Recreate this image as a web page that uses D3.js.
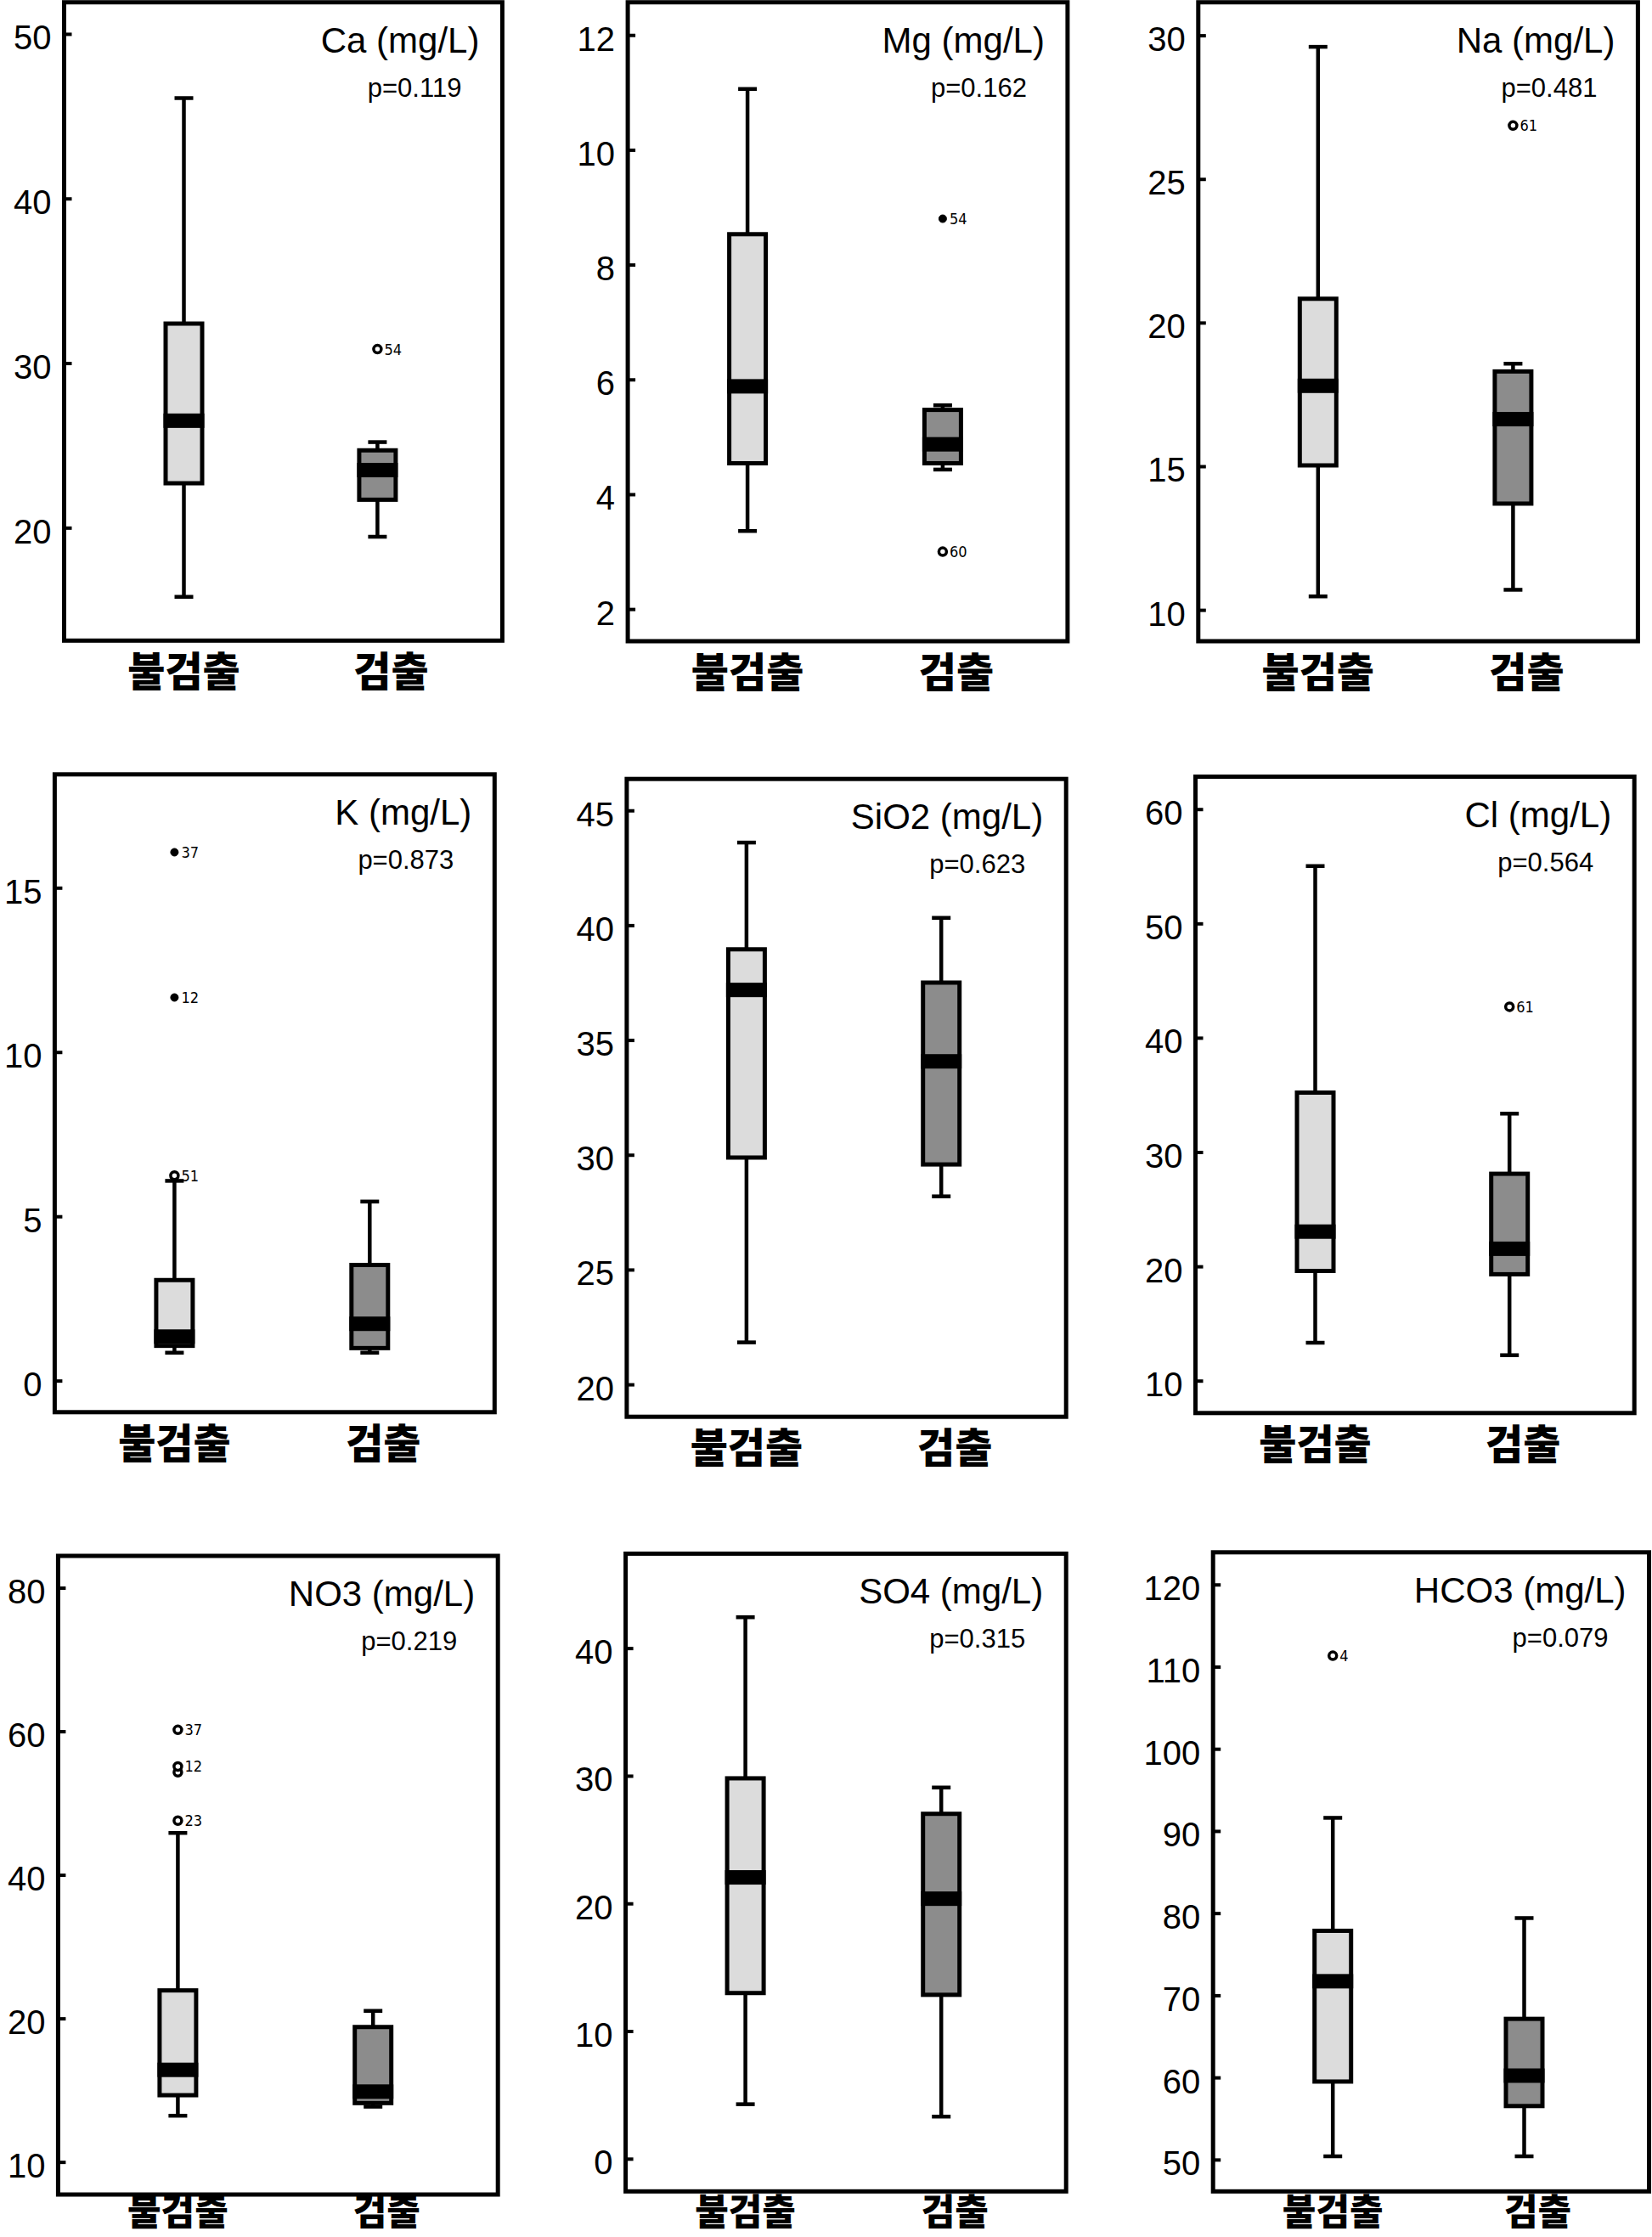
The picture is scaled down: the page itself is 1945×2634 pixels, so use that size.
<!DOCTYPE html>
<html><head><meta charset="utf-8">
<script src="https://cdn.jsdelivr.net/npm/d3@7"></script>
<style>
html,body{margin:0;padding:0;background:#fff;}
svg{display:block;background:#fff;}
</style></head>
<body><svg id="chart" width="1945" height="2634"></svg>
<script>
// ---------------- DATA ----------------
const groups = ["불검출", "검출"];
const variables = ["Ca (mg/L)", "Mg (mg/L)", "Na (mg/L)", "K (mg/L)", "SiO2 (mg/L)", "Cl (mg/L)", "NO3 (mg/L)", "SO4 (mg/L)", "HCO3 (mg/L)"];
const pValues = ["p=0.119", "p=0.162", "p=0.481", "p=0.873", "p=0.623", "p=0.564", "p=0.219", "p=0.315", "p=0.079"];
// [lower whisker, Q1, median, Q3, upper whisker]
const nonDetectStats = [
  [15.8, 22.7, 26.5, 32.4, 46.1],
  [3.36, 4.54, 5.88, 8.53, 11.06],
  [10.47, 15.03, 17.8, 20.83, 29.6],
  [0.85, 1.06, 1.34, 3.06, 6.08],
  [21.83, 29.88, 37.18, 38.95, 43.6],
  [13.32, 19.6, 23.04, 35.2, 55.02],
  [6.44, 9.3, 12.83, 23.9, 45.84],
  [4.27, 12.98, 22.04, 29.8, 42.42],
  [50.4, 59.5, 71.71, 77.85, 91.6]
];
const detectStats = [
  [19.45, 21.7, 23.5, 24.7, 25.2],
  [4.43, 4.54, 4.87, 5.47, 5.55],
  [10.7, 13.7, 16.64, 18.3, 18.57],
  [0.85, 0.99, 1.73, 3.52, 5.45],
  [28.19, 29.58, 34.07, 37.5, 40.32],
  [12.23, 19.31, 21.54, 28.1, 33.36],
  [7.7, 8.2, 9.8, 18.8, 21.05],
  [3.3, 12.84, 20.37, 27.02, 29.08],
  [50.4, 56.52, 60.22, 67.13, 79.4]
];
// outliers per variable: [group index, value, case label, extreme?]
const outliers = [
  [[1, 30.85, "54", false]],
  [[1, 8.8, "54", true], [1, 3.0, "60", false]],
  [[1, 26.86, "61", false]],
  [[0, 16.08, "37", true], [0, 11.66, "12", true], [0, 6.24, "51", false]],
  [],
  [[1, 42.71, "61", false]],
  [[0, 60.2, "37", false], [0, 54.3, "", false], [0, 55.1, "12", false], [0, 47.55, "23", false]],
  [],
  [[0, 111.33, "4", false]]
];
const yTickValues = [
  [20, 30, 40, 50],
  [2, 4, 6, 8, 10, 12],
  [10, 15, 20, 25, 30],
  [0, 5, 10, 15],
  [20, 25, 30, 35, 40, 45],
  [10, 20, 30, 40, 50, 60],
  [0, 20, 40, 60, 80],
  [0, 10, 20, 30, 40],
  [50, 60, 70, 80, 90, 100, 110, 120]
];
const yTickLabels = [
  ["20", "30", "40", "50"],
  ["2", "4", "6", "8", "10", "12"],
  ["10", "15", "20", "25", "30"],
  ["0", "5", "10", "15"],
  ["20", "25", "30", "35", "40", "45"],
  ["10", "20", "30", "40", "50", "60"],
  ["10", "20", "40", "60", "80"],
  ["0", "10", "20", "30", "40"],
  ["50", "60", "70", "80", "90", "100", "110", "120"]
];
const yDomains = [
  [13.14, 51.92],
  [1.44, 12.57],
  [8.91, 31.15],
  [-0.96, 18.45],
  [18.59, 46.37],
  [7.17, 62.84],
  [-4.54, 84.44],
  [-2.56, 47.4],
  [46.13, 123.92]
];

// ---------------- LAYOUT ----------------
const W = 1945, H = 2634;
const panelFrames = [
  [75.5, 2.7, 591.4, 754.3],
  [739.1, 2.7, 1256.9, 755],
  [1410.8, 2.7, 1928.4, 755],
  [64.4, 911.8, 582.3, 1662.8],
  [737.9, 917.2, 1255.2, 1668.2],
  [1407.5, 914.5, 1924.2, 1663.8],
  [68.4, 1832, 586.2, 2584],
  [736.6, 1829.4, 1255.2, 2580.3],
  [1428.2, 1827.8, 1941.5, 2580.3]
];
const latin = "'Liberation Sans', Arial, Helvetica, sans-serif";
const narrow = "'Liberation Sans Narrow', 'DejaVu Sans Condensed', 'Liberation Sans', sans-serif";
const korean = "'Noto Sans CJK KR', 'Noto Sans CJK SC', sans-serif";
const fills = ["#dcdcdc", "#8c8c8c"];
const boxW = 43, capW = 22, medH = 17;

const svg = d3.select("#chart");

variables.forEach((name, i) => {
  const [x0, y0, x1, y1] = panelFrames[i];
  const g = svg.append("g");
  const y = d3.scaleLinear().domain(yDomains[i]).range([y1, y0]);
  const x = d3.scalePoint().domain(groups).range([x0 + 141, x1 - 147]);
  const xl = d3.scalePoint().domain(groups).range([x0 + 141, x1 - 131]);

  // y axis (inward ticks)
  const axis = d3.axisLeft(y)
    .tickValues(yTickValues[i])
    .tickSize(-9)
    .tickPadding(15)
    .tickFormat(d => yTickLabels[i][yTickValues[i].indexOf(d)]);
  const ag = g.append("g")
    .attr("transform", `translate(${x0},0)`)
    .call(axis);
  ag.attr("font-family", latin).attr("font-size", 40);
  ag.select(".domain").remove();
  ag.selectAll(".tick line").attr("stroke", "#000").attr("stroke-width", 4);
  ag.selectAll(".tick text").attr("dy", "0.45em").attr("fill", "#000");

  const stats = [nonDetectStats[i], detectStats[i]];
  const bx = g.selectAll("g.box").data(groups).join("g").attr("class", "box");

  // whiskers
  bx.append("line")
    .attr("x1", d => x(d)).attr("x2", d => x(d))
    .attr("y1", (d, j) => y(stats[j][0])).attr("y2", (d, j) => y(stats[j][4]))
    .attr("stroke", "#000").attr("stroke-width", 4.5);
  [0, 4].forEach(k => {
    bx.append("line")
      .attr("x1", d => x(d) - capW / 2).attr("x2", d => x(d) + capW / 2)
      .attr("y1", (d, j) => y(stats[j][k])).attr("y2", (d, j) => y(stats[j][k]))
      .attr("stroke", "#000").attr("stroke-width", 4.5);
  });
  // boxes
  bx.append("rect")
    .attr("x", d => x(d) - boxW / 2)
    .attr("y", (d, j) => y(stats[j][3]))
    .attr("width", boxW)
    .attr("height", (d, j) => y(stats[j][1]) - y(stats[j][3]))
    .attr("fill", (d, j) => fills[j])
    .attr("stroke", "#000").attr("stroke-width", 5);
  // medians
  bx.append("rect")
    .attr("x", d => x(d) - boxW / 2 - 2.5)
    .attr("y", (d, j) => y(stats[j][2]) - medH / 2)
    .attr("width", boxW + 5)
    .attr("height", medH)
    .attr("fill", "#000");

  // outliers
  const og = g.selectAll("g.out").data(outliers[i]).join("g").attr("class", "out");
  og.append("circle")
    .attr("cx", d => x(groups[d[0]]))
    .attr("cy", d => y(d[1]))
    .attr("r", 4.5)
    .attr("fill", d => d[3] ? "#000" : "#fff")
    .attr("stroke", "#000")
    .attr("stroke-width", d => d[3] ? 1 : 3.5);
  og.filter(d => d[2] !== "").append("text")
    .attr("x", d => x(groups[d[0]]) + 8)
    .attr("y", d => y(d[1]))
    .attr("dy", "0.36em")
    .attr("font-family", narrow)
    .attr("font-size", 18)
    .attr("fill", "#000")
    .text(d => d[2]);

  // frame
  g.append("rect")
    .attr("x", x0).attr("y", y0)
    .attr("width", x1 - x0).attr("height", y1 - y0)
    .attr("fill", "none").attr("stroke", "#000").attr("stroke-width", 5);

  // title + p value
  g.append("text")
    .attr("x", x1 - 27).attr("y", y0 + 59)
    .attr("text-anchor", "end")
    .attr("font-family", latin).attr("font-size", 42).attr("fill", "#000")
    .text(name);
  g.append("text")
    .attr("x", x1 - 48).attr("y", y0 + 111)
    .attr("text-anchor", "end")
    .attr("font-family", latin).attr("font-size", 31).attr("fill", "#000")
    .text(pValues[i]);

  // category labels (bottom row kept inside the canvas)
  const clamp = y1 + 54 > H - 14;
  g.selectAll("text.cat").data(groups).join("text")
    .attr("class", "cat")
    .attr("x", d => xl(d))
    .attr("y", clamp ? H - 14 : y1 + 54)
    .attr("text-anchor", "middle")
    .attr("font-family", korean)
    .attr("font-weight", 900)
    .attr("font-size", clamp ? 43 : 48)
    .attr("fill", "#000")
    .text(d => d);
});
</script>
</body></html>
